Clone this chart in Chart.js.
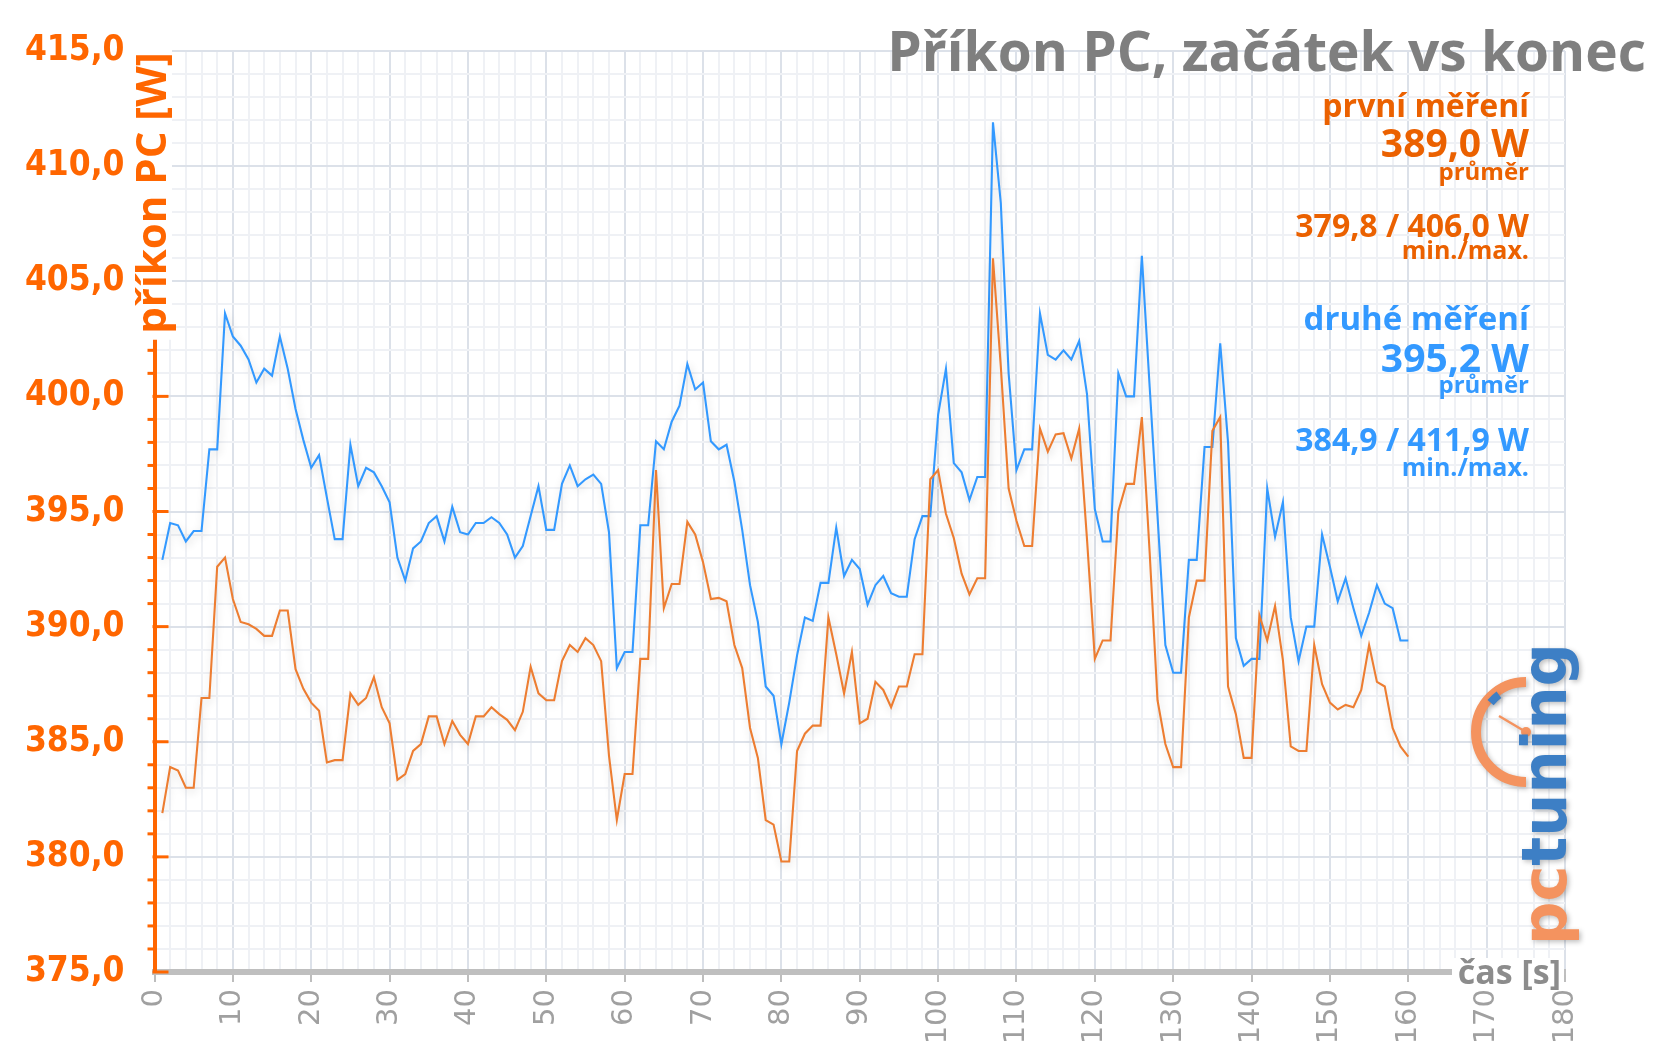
<!DOCTYPE html>
<html><head><meta charset="utf-8">
<script src="https://cdn.jsdelivr.net/npm/chart.js@4.4.1/dist/chart.umd.min.js"></script>
<style>html,body{margin:0;padding:0;background:#fff;overflow:hidden}canvas{display:block}</style>
</head><body>
<canvas id="c" width="1665" height="1058"></canvas>
<script>
// ---- data (W), one value per second, seconds 1..160 ----
const firstRun = [
381.9,383.9,383.75,383.0,383.0,386.9,386.9,392.6,393.0,391.2,
390.2,390.1,389.9,389.6,389.6,390.7,390.7,388.15,387.3,386.7,
386.35,384.1,384.2,384.2,387.1,386.6,386.9,387.8,386.5,385.8,
383.35,383.6,384.6,384.9,386.1,386.1,384.9,385.9,385.3,384.9,
386.1,386.1,386.5,386.2,385.95,385.5,386.3,388.25,387.1,386.8,
386.8,388.5,389.2,388.9,389.5,389.2,388.5,384.4,381.6,383.6,
383.6,388.6,388.6,396.8,390.8,391.85,391.85,394.55,394.0,392.8,
391.2,391.25,391.1,389.2,388.2,385.6,384.3,381.6,381.4,379.8,
379.8,384.6,385.35,385.7,385.7,390.4,388.8,387.1,388.9,385.8,
386.0,387.6,387.25,386.5,387.4,387.4,388.8,388.8,396.4,396.8,
394.9,393.85,392.3,391.4,392.1,392.1,406.0,401.3,396.0,394.6,
393.5,393.5,398.6,397.6,398.35,398.4,397.3,398.6,393.8,388.6,
389.4,389.4,395.0,396.2,396.2,399.1,393.2,386.8,384.9,383.9,
383.9,390.4,392.0,392.0,398.5,399.1,387.4,386.2,384.3,384.3,
390.5,389.4,390.9,388.55,384.8,384.6,384.6,389.2,387.5,386.7,
386.4,386.6,386.5,387.25,389.2,387.6,387.4,385.6,384.8,384.35
];
const secondRun = [
392.9,394.5,394.4,393.7,394.15,394.15,397.7,397.7,403.6,402.6,
402.2,401.6,400.6,401.2,400.9,402.6,401.2,399.45,398.1,396.9,
397.45,395.6,393.8,393.8,397.9,396.1,396.9,396.7,396.1,395.4,
393.0,392.0,393.4,393.7,394.5,394.8,393.7,395.2,394.1,394.0,
394.5,394.5,394.75,394.5,394.0,393.0,393.5,394.8,396.1,394.2,
394.2,396.2,397.0,396.1,396.4,396.6,396.2,394.1,388.2,388.9,
388.9,394.4,394.4,398.05,397.7,398.9,399.6,401.4,400.3,400.6,
398.05,397.7,397.9,396.3,394.2,391.8,390.2,387.4,387.0,384.9,
386.7,388.75,390.4,390.25,391.9,391.9,394.3,392.2,392.9,392.5,
390.95,391.8,392.2,391.45,391.3,391.3,393.8,394.8,394.8,399.2,
401.2,397.1,396.7,395.5,396.5,396.5,411.9,408.4,401.0,396.8,
397.7,397.7,403.6,401.8,401.6,402.0,401.6,402.4,400.1,395.1,
393.7,393.7,401.0,400.0,400.0,406.1,400.4,394.8,389.2,388.0,
388.0,392.9,392.9,397.8,397.8,402.3,398.0,389.5,388.3,388.6,
388.6,396.0,393.9,395.4,390.4,388.5,390.0,390.0,394.0,392.6,
391.1,392.1,390.8,389.6,390.6,391.8,391.0,390.8,389.4,389.4
];
const seconds = firstRun.map((_, i) => i + 1);

const titleText = 'Příkon PC, začátek vs konec';
const yTitle = 'příkon PC [W]';
const xTitle = 'čas [s]';
const notesFirst = ['první měření', '389,0 W', 'průměr', '379,8 / 406,0 W', 'min./max.'];
const notesSecond = ['druhé měření', '395,2 W', 'průměr', '384,9 / 411,9 W', 'min./max.'];
const logoParts = ['pc', 'tuning'];

const AXIS_OR = '#ff6600';
const TXT_OR = '#eb6100';
const TXT_BL = '#3399ff';
const LINE_OR = '#ed7d31';
const LINE_BL = '#3399ff';
const GRID_MAJ = '#dce1e9';
const GRID_MIN = '#eff1f5';

const overlay = {
  id: 'overlay',
  beforeDatasetsDraw(chart) {
    const c = chart.ctx; c.save();
    c.shadowColor = 'rgba(0,0,0,0.16)'; c.shadowBlur = 8; c.shadowOffsetX = 1; c.shadowOffsetY = 3;
  },
  afterDatasetsDraw(chart) { chart.ctx.restore(); },
  afterDraw(chart) {
    const ctx = chart.ctx, xs = chart.scales.x, ys = chart.scales.y;
    const ax = xs.left;
    // y axis ticks
    ctx.save();
    ctx.strokeStyle = AXIS_OR; ctx.lineWidth = 3;
    for (let v = ys.min; v <= ys.max; v++) {
      const y = ys.getPixelForValue(v);
      ctx.beginPath();
      if (v % 5 === 0) { ctx.moveTo(ax - 2, y); ctx.lineTo(ax + 14, y); }
      else { ctx.moveTo(ax - 7, y); ctx.lineTo(ax, y); }
      ctx.stroke();
    }
    ctx.restore();

    // y title (rotated) with white backing
    ctx.save();
    ctx.translate(158, 193); ctx.rotate(-Math.PI / 2);
    ctx.font = 'bold 42px "Open Sans"';
    const w = ctx.measureText(yTitle).width;
    ctx.fillStyle = '#fff';
    ctx.fillRect(-w / 2 - 6, -31, w + 12, 45);
    ctx.fillStyle = AXIS_OR; ctx.textAlign = 'center'; ctx.textBaseline = 'alphabetic';
    ctx.fillText(yTitle, 0, 8);
    ctx.restore();

    // x title with white backing
    ctx.save();
    ctx.font = 'bold 34px "Open Sans"';
    ctx.fillStyle = '#fff';
    ctx.fillRect(1452, xs.top - 14, 112, 30);
    ctx.fillStyle = '#8c8c8c'; ctx.textAlign = 'right'; ctx.textBaseline = 'middle';
    ctx.fillText(xTitle, 1561, xs.top + 2);
    ctx.restore();

    // main title
    ctx.save();
    ctx.font = 'bold 55px "Open Sans"';
    ctx.fillStyle = '#7f7f7f'; ctx.textAlign = 'right'; ctx.textBaseline = 'alphabetic';
    ctx.fillText(titleText, 1646, 71);
    ctx.restore();

    // annotations
    const sizes = [32, 39, 24, 32, 25];
    const baseF = [117, 157, 180, 237, 259];
    const baseS = [330, 372, 393, 451, 476];
    ctx.save();
    ctx.textAlign = 'right'; ctx.textBaseline = 'alphabetic';
    notesFirst.forEach((t, i) => { ctx.font = 'bold ' + sizes[i] + 'px "Open Sans"'; ctx.fillStyle = TXT_OR; ctx.fillText(t, 1529, baseF[i]); });
    notesSecond.forEach((t, i) => { ctx.font = 'bold ' + (i === 0 ? 33 : sizes[i]) + 'px "Open Sans"'; ctx.fillStyle = TXT_BL; ctx.fillText(t, 1529, baseS[i]); });
    ctx.restore();

    // logo
    ctx.save();
    ctx.shadowColor = 'rgba(0,0,0,0.25)'; ctx.shadowBlur = 5; ctx.shadowOffsetX = 2; ctx.shadowOffsetY = 2;
    const cx = 1526, cy = 732, r = 50;
    ctx.strokeStyle = '#f4935f'; ctx.lineWidth = 10; ctx.lineCap = 'butt';
    ctx.beginPath(); ctx.arc(cx, cy, r, -Math.PI / 2, Math.PI / 2, true); ctx.stroke();
    ctx.strokeStyle = '#3d7fc5'; ctx.lineWidth = 8;
    ctx.beginPath(); ctx.arc(cx, cy, r - 4, -2.45, -2.2, false); ctx.stroke();
    ctx.strokeStyle = '#f4935f'; ctx.lineWidth = 2.5;
    ctx.beginPath(); ctx.moveTo(cx, cy); ctx.lineTo(1499, 716); ctx.stroke();
    ctx.fillStyle = '#f4935f'; ctx.beginPath(); ctx.arc(cx, cy, 5, 0, Math.PI * 2); ctx.fill();
    ctx.translate(1566, 945); ctx.rotate(-Math.PI / 2);
    ctx.font = 'bold 62px "DejaVu Sans"';
    const w1 = ctx.measureText(logoParts[0]).width, w2 = ctx.measureText(logoParts[1]).width;
    const sc = 302 / (w1 + w2);
    ctx.scale(sc, 1);
    ctx.textAlign = 'left'; ctx.textBaseline = 'alphabetic';
    ctx.fillStyle = '#f4935f'; ctx.fillText(logoParts[0], 0, 0);
    ctx.fillStyle = '#3d7fc5'; ctx.fillText(logoParts[1], w1, 0);
    ctx.restore();
  }
};

function build() {
  new Chart(document.getElementById('c'), {
    type: 'line',
    data: {
      datasets: [
        { label: 'první měření', data: seconds.map((s, i) => ({ x: s, y: firstRun[i] })),
          borderColor: LINE_OR, borderWidth: 2.1, pointRadius: 0, tension: 0, fill: false },
        { label: 'druhé měření', data: seconds.map((s, i) => ({ x: s, y: secondRun[i] })),
          borderColor: LINE_BL, borderWidth: 2.1, pointRadius: 0, tension: 0, fill: false }
      ]
    },
    options: {
      responsive: false, animation: false, devicePixelRatio: 1,
      layout: { padding: { left: 0, right: 100, top: 50, bottom: 0 } },
      plugins: { legend: { display: false }, title: { display: false }, tooltip: { enabled: false } },
      scales: {
        x: {
          type: 'linear', min: 0, max: 180,
          afterFit: s => { s.height = 86; },
          ticks: {
            stepSize: 2, autoSkip: false, maxRotation: 90, minRotation: 90, padding: 7,
            color: '#a0a0a0', font: { family: '"DejaVu Sans"', size: 29 },
            callback: v => (v % 10 === 0 ? String(v) : '')
          },
          grid: {
            lineWidth: 2,
            color: c => (c.tick && c.tick.value % 10 === 0 ? GRID_MAJ : GRID_MIN),
            drawTicks: true, tickLength: 10, tickWidth: 2,
            tickColor: c => (c.tick && c.tick.value % 10 === 0 ? '#bdbdbd' : 'rgba(0,0,0,0)')
          },
          border: { display: true, color: '#bfbfbf', width: 6 }
        },
        y: {
          min: 375, max: 415,
          afterFit: s => { s.width = 154.5; },
          ticks: {
            stepSize: 1, autoSkip: false, padding: 30,
            color: AXIS_OR, font: { family: '"Liberation Sans Narrow", "DejaVu Sans Condensed", sans-serif', size: 35, weight: 'bold' },
            callback: v => (v % 5 === 0 ? v.toFixed(1).replace('.', ',') : '')
          },
          grid: {
            lineWidth: 2, drawTicks: false,
            color: c => (c.tick && c.tick.value % 5 === 0 ? GRID_MAJ : GRID_MIN)
          },
          border: { display: true, color: AXIS_OR, width: 4 }
        }
      }
    },
    plugins: [overlay]
  });
}
const fl = ['bold 42px "Open Sans"', 'bold 35px "Liberation Sans Narrow"', 'bold 35px "DejaVu Sans Condensed"', '29px "DejaVu Sans"', 'bold 62px "DejaVu Sans"'];
Promise.all(fl.map(f => document.fonts.load(f).catch(() => null))).then(build, build);
</script>
</body></html>
